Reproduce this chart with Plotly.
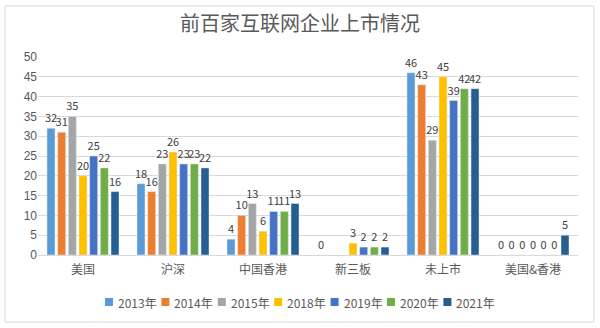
import plotly.graph_objects as go

categories = ["美国", "沪深", "中国香港", "新三板", "未上市", "美国&香港"]
series_names = ["2013年", "2014年", "2015年", "2018年", "2019年", "2020年", "2021年"]
v2013 = [32, 18, 4, 0, 46, 0]
v2014 = [31, 16, 10, None, 43, 0]
v2015 = [35, 23, 13, None, 29, 0]
v2018 = [20, 26, 6, 3, 45, 0]
v2019 = [25, 23, 11, 2, 39, 0]
v2020 = [22, 23, 11, 2, 42, 0]
v2021 = [16, 22, 13, 2, 42, 5]
values = [v2013, v2014, v2015, v2018, v2019, v2020, v2021]
colors = ["#5B9BD5", "#ED7D31", "#A5A5A5", "#FFC000", "#4472C4", "#70AD47", "#255E91"]

font = "Noto Sans CJK SC"
fig = go.Figure()
for name, vals, c in zip(series_names, values, colors):
    fig.add_trace(go.Bar(
        x=categories, y=vals, name=name, marker_color=c,
        text=[("" if v is None else str(v)) for v in vals],
        textposition="outside", constraintext="none", cliponaxis=False,
        textfont=dict(family=font, size=11, color="#404040"),
        showlegend=False,
    ))

L, R, T, B = 38, 22, 57, 73
W, H = 600, 328
pw, ph = W - L - R, H - T - B
def px(x): return (x - L) / pw
def py(y): return (H - B - y) / ph

shapes = [dict(type="rect", xref="paper", yref="paper",
               x0=px(5), x1=px(594), y0=py(322), y1=py(6),
               line=dict(color="#D9D9D9", width=1), fillcolor="rgba(0,0,0,0)", layer="below")]
annotations = []
# custom legend row
leg_x0, leg_pitch, leg_y = 105, 56.4, 302
for i, (name, c) in enumerate(zip(series_names, colors)):
    x = leg_x0 + i * leg_pitch
    shapes.append(dict(type="rect", xref="paper", yref="paper",
                       x0=px(x), x1=px(x + 8), y0=py(leg_y + 4), y1=py(leg_y - 4),
                       line=dict(width=0), fillcolor=c))
    annotations.append(dict(text=name, xref="paper", yref="paper", x=px(x + 11), y=py(leg_y),
                            xanchor="left", yanchor="middle", showarrow=False,
                            font=dict(family=font, size=12, color="#595959")))

fig.update_layout(
    width=W, height=H,
    margin=dict(l=L, r=R, t=T, b=B),
    paper_bgcolor="white", plot_bgcolor="white",
    barmode="group", bargap=0.17, bargroupgap=0.25,
    title=dict(text="前百家互联网企业上市情况", x=0.5, xref="container", xanchor="center",
               y=1 - 24 / H, yanchor="middle", yref="container",
               font=dict(family=font, size=20, color="#595959")),
    font=dict(family=font, size=12, color="#595959"),
    xaxis=dict(showgrid=False, showline=True, linecolor="#D9D9D9", ticks="outside",
               ticklen=4, tickcolor="rgba(0,0,0,0)",
               tickfont=dict(size=12, color="#595959")),
    yaxis=dict(range=[0, 50], dtick=5, showgrid=True, gridcolor="#D9D9D9",
               zeroline=False, showline=False, ticks="",
               tickfont=dict(family="Liberation Sans", size=12, color="#595959")),
    showlegend=False,
    shapes=shapes, annotations=annotations,
)
fig.write_html("out.html")
